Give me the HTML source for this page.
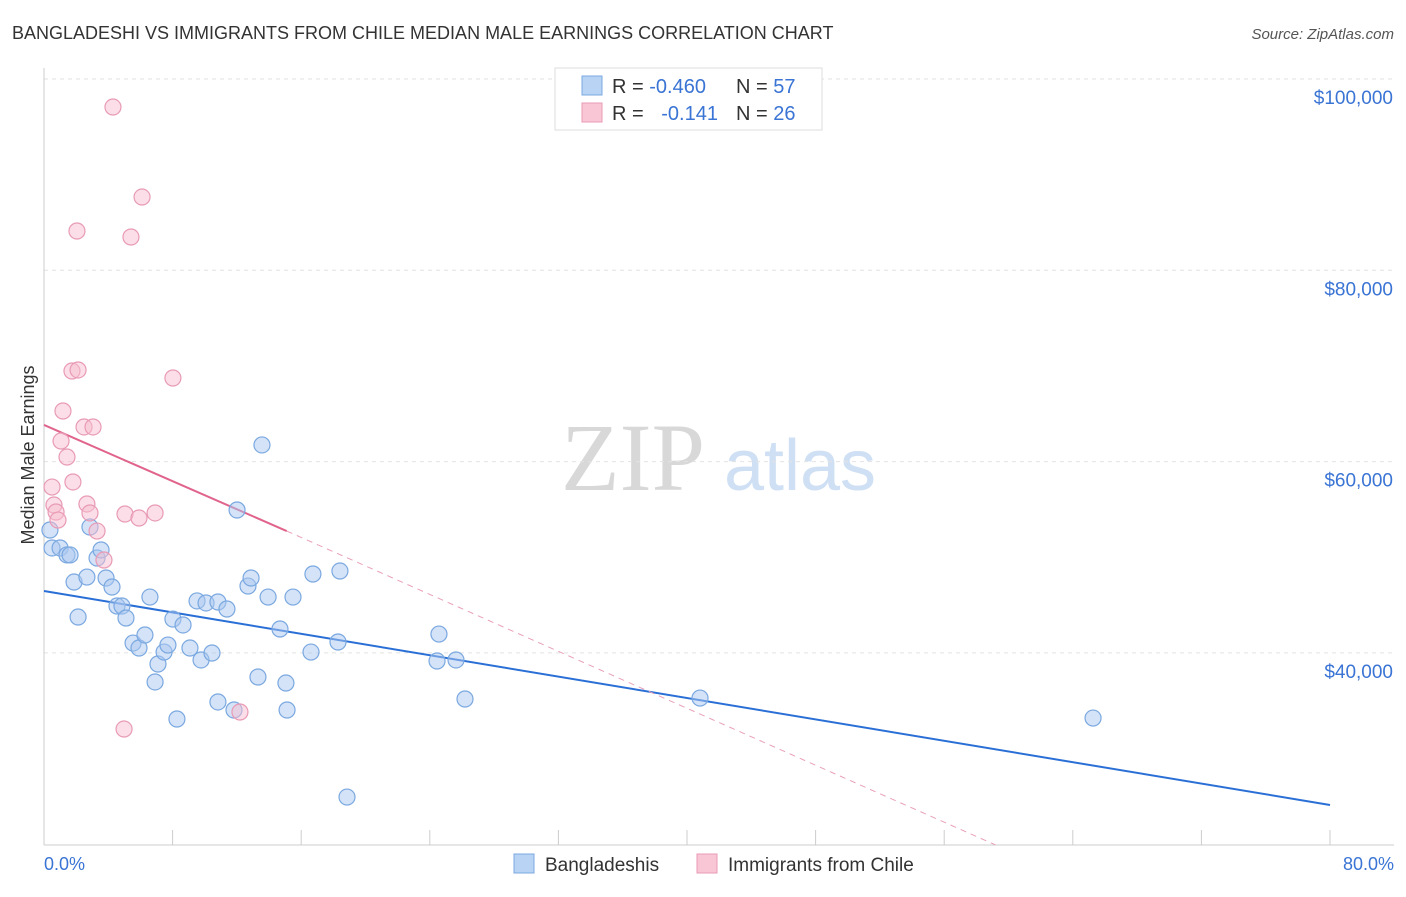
<!DOCTYPE html>
<html><head><meta charset="utf-8"><style>
body{margin:0;background:#fff;font-family:"Liberation Sans",sans-serif}
</style></head><body>
<svg width="1406" height="892" xmlns="http://www.w3.org/2000/svg" font-family="Liberation Sans, sans-serif">
<text x="12" y="39" font-size="18" fill="#333">BANGLADESHI VS IMMIGRANTS FROM CHILE MEDIAN MALE EARNINGS CORRELATION CHART</text>
<text x="1394" y="39" font-size="15" fill="#555" font-style="italic" text-anchor="end">Source: ZipAtlas.com</text>
<g>
<text x="633" y="490" font-size="96" fill="#d8d8d8" font-family="Liberation Serif, serif" text-anchor="middle">ZIP</text>
<text x="800" y="490" font-size="72" fill="#cfe0f5" text-anchor="middle">atlas</text>
</g>
<g id="grid"></g>
<g id="axes"></g>
<g id="lines"></g>
<g id="points"></g>
<text transform="translate(34,455) rotate(-90)" font-size="18" fill="#333" text-anchor="middle">Median Male Earnings</text>
<text x="44" y="870" font-size="18" fill="#3a74d4">0.0%</text>
<text x="1394" y="870" font-size="18" fill="#3a74d4" text-anchor="end">80.0%</text>
<g>
<rect x="555" y="68" width="267" height="62" fill="#fff" stroke="#ddd"/>
<rect x="582" y="76" width="20" height="19" fill="#b9d3f5" stroke="#7aa8e0"/>
<rect x="582" y="103" width="20" height="19" fill="#f9c6d5" stroke="#e89ab5"/>
<text x="612" y="93" font-size="20" fill="#333">R = <tspan fill="#3a74d4">-0.460</tspan></text>
<text x="736" y="93" font-size="20" fill="#333">N = <tspan fill="#3a74d4">57</tspan></text>
<text x="612" y="120" font-size="20" fill="#333">R = <tspan fill="#3a74d4" dx="12">-0.141</tspan></text>
<text x="736" y="120" font-size="20" fill="#333">N = <tspan fill="#3a74d4">26</tspan></text>
</g>
<g>
<rect x="514" y="854" width="20" height="19" fill="#b9d3f5" stroke="#7aa8e0"/>
<text x="545" y="871" font-size="19" fill="#333">Bangladeshis</text>
<rect x="697" y="854" width="20" height="19" fill="#f9c6d5" stroke="#e89ab5"/>
<text x="728" y="871" font-size="19" fill="#333">Immigrants from Chile</text>
</g>
</svg>
<script>
const yTicks=[40000,60000,80000,100000];
const yTickLabels=["$40,000","$60,000","$80,000","$100,000"];
const xTicks=[0,8,16,24,32,40,48,56,64,72,80];
const blueX=[0.37,0.5,1.0,1.43,1.62,1.87,2.12,2.67,2.86,3.30,3.55,3.86,4.23,4.54,4.85,5.10,5.54,5.91,6.28,6.59,6.91,7.09,7.47,7.71,8.02,8.27,8.65,9.08,9.52,9.77,10.08,10.45,10.82,10.82,11.38,11.82,12.01,12.69,12.88,13.31,13.56,13.94,14.68,15.05,15.12,15.49,16.61,16.73,18.29,18.41,18.85,24.45,24.57,25.63,26.19,40.81,65.26];
const blueY=[52850,50970,50970,50240,50240,47410,43750,47930,53160,49920,50760,47830,46890,44900,44900,43650,41030,40510,41870,45840,36960,38840,40090,40820,43540,33090,42920,40510,45430,39260,45220,39990,45320,34870,44590,34030,54940,46990,47830,37480,61740,45840,42500,36850,34030,45840,40090,48250,41140,48560,24930,39150,41970,39260,35180,35280,33190];
const pinkX=[4.29,6.10,2.05,5.41,1.74,2.12,8.02,1.18,2.49,3.05,1.06,1.43,0.50,1.80,0.62,2.67,0.75,0.87,2.86,5.04,6.91,5.91,3.30,3.73,4.98,12.19];
const pinkY=[97070,87660,84110,83480,69470,69580,68740,65290,63620,63620,62150,60480,57340,57870,55460,55570,54730,53890,54630,54520,54630,54100,52740,49710,32040,33820];
const blueTrend=[[0,46470],[80,24100]];
const pinkTrendSolid=[[0,63830],[15.1,52740]];
const pinkTrendDash=[[15.1,52740],[59.2,19920]];
const NS="http://www.w3.org/2000/svg";
const X=p=>44+p/80*1286;
const Y=v=>79+(100000-v)/20000*191.3;
function mk(t,a,parent){const e=document.createElementNS(NS,t);for(const k in a)e.setAttribute(k,a[k]);document.getElementById(parent).appendChild(e);return e;}
yTicks.forEach((v,i)=>{
 const g=mk('line',{x1:44,x2:1394,y1:Y(v),y2:Y(v),stroke:'#e2e2e2','stroke-dasharray':'4,4'},'grid');
 
 
 const t=mk('text',{x:1393,y:Y(v)+25,'font-size':19,fill:'#3a74d4','text-anchor':'end'},'axes');
 t.textContent=yTickLabels[i];
 
 
});
const ax=mk('line',{x1:44,x2:1394,y1:845,y2:845,stroke:'#ccc'},'axes');


const ay=mk('line',{x1:44,x2:44,y1:68,y2:845,stroke:'#ccc'},'axes');


xTicks.forEach(p=>{
 const t=mk('line',{x1:X(p),x2:X(p),y1:830,y2:845,stroke:'#ccc'},'axes');
 
 
});
const l1=mk('line',{x1:X(blueTrend[0][0]),y1:Y(blueTrend[0][1]),x2:X(blueTrend[1][0]),y2:Y(blueTrend[1][1]),stroke:'#2a6fd6','stroke-width':2},'lines');


const l2=mk('line',{x1:X(pinkTrendSolid[0][0]),y1:Y(pinkTrendSolid[0][1]),x2:X(pinkTrendSolid[1][0]),y2:Y(pinkTrendSolid[1][1]),stroke:'#e0648c','stroke-width':2},'lines');


const l3=mk('line',{x1:X(pinkTrendDash[0][0]),y1:Y(pinkTrendDash[0][1]),x2:X(pinkTrendDash[1][0]),y2:Y(pinkTrendDash[1][1]),stroke:'#e8a0b8','stroke-width':1,'stroke-dasharray':'6,5'},'lines');


blueX.forEach((x,i)=>{
 const c=mk('circle',{cx:X(x),cy:Y(blueY[i]),r:8,fill:'rgba(170,200,240,0.5)',stroke:'#7aa8e0','stroke-width':1.2},'points');
 
 
});
pinkX.forEach((x,i)=>{
 const c=mk('circle',{cx:X(x),cy:Y(pinkY[i]),r:8,fill:'rgba(248,190,208,0.5)',stroke:'#e89ab5','stroke-width':1.2},'points');
 
 
});
</script>
</body></html>
